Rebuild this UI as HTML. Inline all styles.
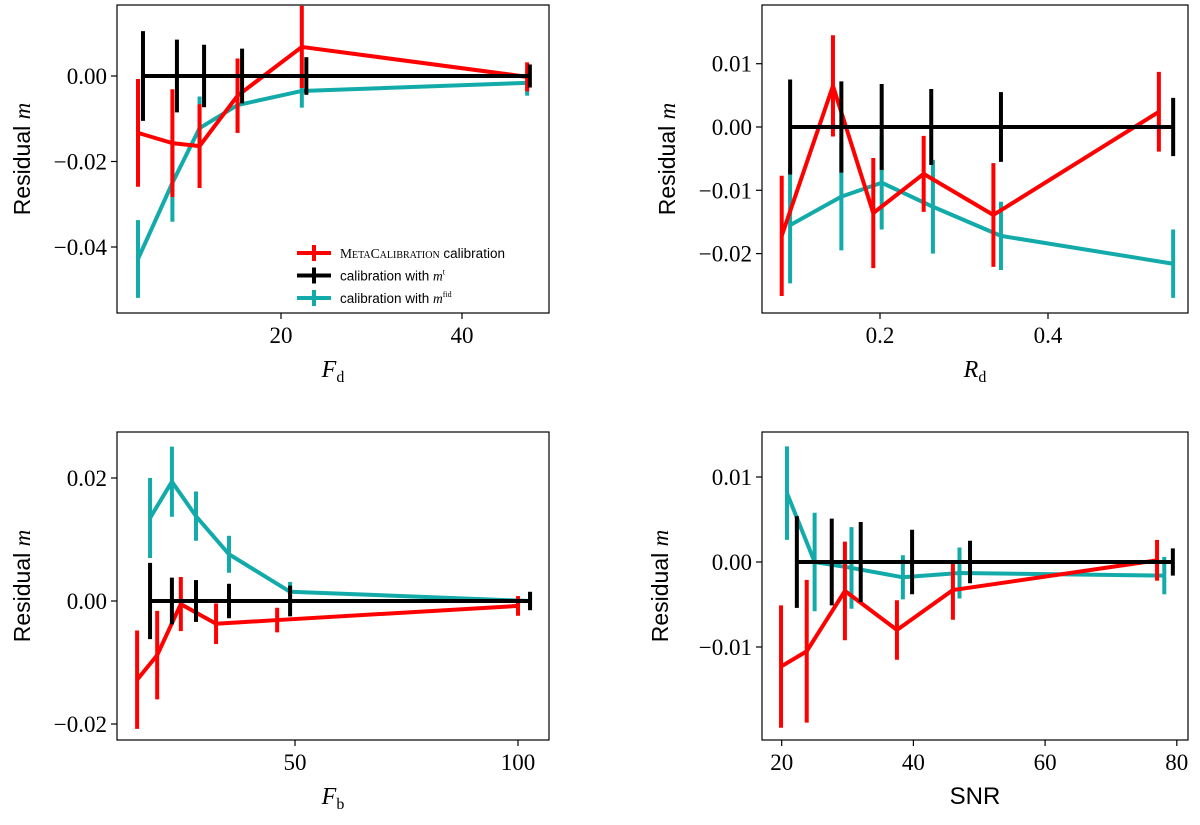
<!DOCTYPE html>
<html><head><meta charset="utf-8"><style>
body{margin:0;background:#fff;width:1200px;height:820px;overflow:hidden}
svg text{font-family:"Liberation Serif",serif}
</style></head><body>
<svg id="s" width="1200" height="820"></svg>
<script>
// Panel 1 (F_d)
const p1BlackX=[4.75,8.5,11.5,15.7,22.8,47.5], p1BlackY=[0,0,0,0,0,0], p1BlackE=[0.0105,0.0085,0.0073,0.0064,0.0044,0.0027];
const p1RedX=[4.2,8.0,11.0,15.2,22.3,47.2], p1RedY=[-0.0133,-0.0157,-0.0164,-0.0046,0.0068,-0.0002], p1RedE=[0.0126,0.0126,0.0098,0.0087,0.0096,0.0034];
const p1TealX=[4.2,8.0,11.0,15.2,22.3,47.2], p1TealY=[-0.0428,-0.025,-0.0122,-0.0068,-0.0035,-0.0016], p1TealE=[0.0091,0.0091,0.0074,0.0065,0.0039,0.003];
const p1XTicks=[20,40], p1YTicks=[0,-0.02,-0.04], p1YLabels=["0.00","−0.02","−0.04"];
// Panel 2 (R_d)
const p2BlackX=[0.093,0.154,0.202,0.261,0.344,0.549], p2BlackY=[0,0,0,0,0,0], p2BlackE=[0.0075,0.0072,0.0068,0.006,0.0055,0.0046];
const p2RedX=[0.083,0.144,0.192,0.252,0.335,0.532], p2RedY=[-0.0172,0.0065,-0.0136,-0.0074,-0.0139,0.0024], p2RedE=[0.0095,0.008,0.0087,0.006,0.0082,0.0063];
const p2TealX=[0.093,0.154,0.202,0.263,0.344,0.549], p2TealY=[-0.0155,-0.011,-0.0088,-0.0126,-0.0172,-0.0216], p2TealE=[0.0092,0.0085,0.0074,0.0074,0.0054,0.0054];
const p2XTicks=[0.2,0.4], p2YTicks=[0.01,0,-0.01,-0.02], p2YLabels=["0.01","0.00","−0.01","−0.02"];
// Panel 3 (F_b)
const p3BlackX=[17.5,22.4,27.8,35.2,48.9,102.7], p3BlackY=[0,0,0,0,0,0], p3BlackE=[0.0062,0.0038,0.0034,0.0028,0.0025,0.0015];
const p3RedX=[14.6,19.1,24.4,32.3,46,100], p3RedY=[-0.0128,-0.0088,-0.0005,-0.0037,-0.0031,-0.0008], p3RedE=[0.008,0.0072,0.0044,0.0033,0.002,0.0016];
const p3TealX=[17.5,22.4,27.8,35.2,48.9,102.7], p3TealY=[0.0135,0.0194,0.0138,0.0076,0.0015,0.0], p3TealE=[0.0065,0.0057,0.004,0.003,0.0016,0.0014];
const p3XTicks=[50,100], p3YTicks=[0.02,0,-0.02], p3YLabels=["0.02","0.00","−0.02"];
// Panel 4 (SNR)
const p4BlackX=[22.3,27.6,32,39.8,48.6,79.4], p4BlackY=[0,0,0,0,0,0], p4BlackE=[0.0054,0.0051,0.0047,0.0038,0.0025,0.0016];
const p4RedX=[19.9,23.8,29.6,37.5,46,77], p4RedY=[-0.0123,-0.0105,-0.0034,-0.008,-0.0033,0.0002], p4RedE=[0.0072,0.0084,0.0058,0.0035,0.0035,0.0024];
const p4TealX=[20.8,25,30.6,38.4,47,78.1], p4TealY=[0.0081,0,-0.0007,-0.0018,-0.0013,-0.0016], p4TealE=[0.0055,0.0058,0.0048,0.0026,0.003,0.0022];
const p4XTicks=[20,40,60,80], p4YTicks=[0.01,0,-0.01], p4YLabels=["0.01","0.00","−0.01"];

const NS="http://www.w3.org/2000/svg", S=document.getElementById('s');
function el(t,a,p){const e=document.createElementNS(NS,t);for(const k in a)e.setAttribute(k,a[k]);(p||S).appendChild(e);return e;}
const RED="#ff0000",BLK="#000000",TEAL="#13aaaa";
function panel(id,box,x0,xs,y0,ys,series,xt,yt,ylab,xlab){
  const g=el('g',{});
  
  
  const X=v=>x0+v*xs, Y=v=>y0-v*ys;
  const [L,T,R,B]=box;
  const clip='c'+id;
  const cp=el('clipPath',{id:clip},g);el('rect',{x:L,y:T,width:R-L,height:B-T},cp);
  const sg=el('g',{'clip-path':'url(#'+clip+')'},g);
  series.forEach(([xa,ya,ea,c,name])=>{
    const sgg=el('g',{},sg);
    
    
    xa.forEach((x,i)=>{const b=el('line',{x1:X(x),x2:X(x),y1:Y(ya[i]-ea[i]),y2:Y(ya[i]+ea[i]),stroke:c,'stroke-width':4},sgg);
      
      });
    const l=el('polyline',{points:xa.map((x,i)=>X(x)+','+Y(ya[i])).join(' '),fill:'none',stroke:c,'stroke-width':4,'stroke-linejoin':'round'},sgg);
    
    
  });
  const fr=el('rect',{x:L,y:T,width:R-L,height:B-T,fill:'none',stroke:'#000','stroke-width':1.2},g);
  
  
  xt.forEach(v=>{el('line',{x1:X(v),x2:X(v),y1:B,y2:B+6,stroke:'#000','stroke-width':1.2},g);
    const t=el('text',{x:X(v),y:B+30,'text-anchor':'middle','font-size':23},g);t.textContent=String(v);
    
    });
  yt[0].forEach((v,i)=>{el('line',{x1:L-6,x2:L,y1:Y(v),y2:Y(v),stroke:'#000','stroke-width':1.2},g);
    const t=el('text',{x:L-10,y:Y(v)+8,'text-anchor':'end','font-size':23},g);t.textContent=yt[1][i];
    
    });
  const yl=el('text',{transform:`translate(${ylab},${(T+B)/2}) rotate(-90)`,'text-anchor':'middle','font-size':23},g);
  yl.innerHTML='<tspan style="font-family:\'Liberation Sans\',sans-serif">Residual </tspan><tspan font-style="italic">m</tspan>';
  
  
  const xl=el('text',{x:(L+R)/2,y:B+64,'text-anchor':'middle','font-size':24},g);
  xl.innerHTML=xlab;
  
  
  return g;
}
panel('panel-fd',[117,5,549,313],100,9.05,76,4275,[[p1TealX,p1TealY,p1TealE,TEAL,'fiducial'],[p1RedX,p1RedY,p1RedE,RED,'metacal'],[p1BlackX,p1BlackY,p1BlackE,BLK,'true']],p1XTicks,[p1YTicks,p1YLabels],30,'<tspan font-style="italic">F</tspan><tspan font-size="16" dy="5">d</tspan>');
panel('panel-rd',[762,5,1188,313],712,840,127,6330,[[p2TealX,p2TealY,p2TealE,TEAL,'fiducial'],[p2RedX,p2RedY,p2RedE,RED,'metacal'],[p2BlackX,p2BlackY,p2BlackE,BLK,'true']],p2XTicks,[p2YTicks,p2YLabels],675,'<tspan font-style="italic">R</tspan><tspan font-size="16" dy="5">d</tspan>');
panel('panel-fb',[117,432,549,740],72,4.46,601,6150,[[p3TealX,p3TealY,p3TealE,TEAL,'fiducial'],[p3RedX,p3RedY,p3RedE,RED,'metacal'],[p3BlackX,p3BlackY,p3BlackE,BLK,'true']],p3XTicks,[p3YTicks,p3YLabels],30,'<tspan font-style="italic">F</tspan><tspan font-size="16" dy="5">b</tspan>');
panel('panel-snr',[762,432,1188,740],650,6.585,562,8500,[[p4TealX,p4TealY,p4TealE,TEAL,'fiducial'],[p4RedX,p4RedY,p4RedE,RED,'metacal'],[p4BlackX,p4BlackY,p4BlackE,BLK,'true']],p4XTicks,[p4YTicks,p4YLabels],668,'<tspan style="font-family:\'Liberation Sans\',sans-serif">SNR</tspan>');
// legend
const lg=el('g',{});


[[RED,'<tspan font-family="Liberation Serif">M<tspan font-size="10">ETA</tspan>C<tspan font-size="10">ALIBRATION</tspan></tspan> calibration'],[BLK,'calibration with <tspan font-family="Liberation Serif" font-style="italic">m</tspan><tspan font-size="8" dy="-6" font-family="Liberation Serif">t</tspan>'],[TEAL,'calibration with <tspan font-family="Liberation Serif" font-style="italic">m</tspan><tspan font-size="8" dy="-6" font-family="Liberation Serif">fid</tspan>']].forEach(([c,t],i)=>{
  const y=253+i*22.5;
  el('line',{x1:297,x2:331,y1:y,y2:y,stroke:c,'stroke-width':4},lg);
  el('line',{x1:314,x2:314,y1:y-8,y2:y+8,stroke:c,'stroke-width':4},lg);
  const tx=el('text',{x:340,y:y+5,'font-size':13.5,style:"font-family:'Liberation Sans',sans-serif"},lg);
  tx.innerHTML=t;
  
  
});
</script>
</body></html>
